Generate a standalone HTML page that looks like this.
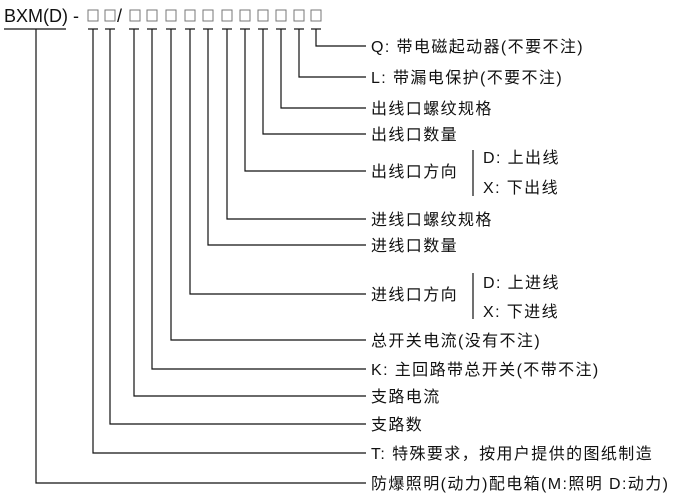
<!DOCTYPE html>
<html><head><meta charset="utf-8"><style>
html,body{margin:0;padding:0;background:#fff;}
svg{display:block}
text{font-family:"Liberation Sans","Noto Sans CJK SC",sans-serif;font-size:16px;fill:#111;letter-spacing:1.4px;}
text.t{font-size:18px;letter-spacing:0;}
</style></head><body>
<svg width="684" height="504" viewBox="0 0 684 504" xmlns="http://www.w3.org/2000/svg">
<g stroke="#111" stroke-width="1.2" fill="none">
<line x1="4" y1="29" x2="66" y2="29"/>
<g stroke="#777" stroke-width="1">
<rect x="88" y="10" width="10" height="11"/>
<rect x="105" y="10" width="10" height="11"/>
<rect x="130" y="10" width="10" height="11"/>
<rect x="147" y="10" width="10" height="11"/>
<rect x="166" y="10" width="10" height="11"/>
<rect x="185" y="10" width="10" height="11"/>
<rect x="203" y="10" width="10" height="11"/>
<rect x="222" y="10" width="10" height="11"/>
<rect x="240" y="10" width="10" height="11"/>
<rect x="258" y="10" width="10" height="11"/>
<rect x="276" y="10" width="10" height="11"/>
<rect x="294" y="10" width="10" height="11"/>
<rect x="311" y="10" width="10" height="11"/>
</g>
<line x1="88" y1="29" x2="98" y2="29"/><line x1="105" y1="29" x2="115" y2="29"/>
<line x1="129" y1="29" x2="139" y2="29"/><line x1="147" y1="29" x2="157" y2="29"/>
<line x1="166" y1="29" x2="176" y2="29"/><line x1="185" y1="29" x2="195" y2="29"/>
<line x1="203" y1="29" x2="213" y2="29"/><line x1="222" y1="29" x2="232" y2="29"/>
<line x1="240" y1="29" x2="250" y2="29"/><line x1="258" y1="29" x2="268" y2="29"/>
<line x1="276" y1="29" x2="286" y2="29"/><line x1="294" y1="29" x2="304" y2="29"/>
<line x1="311" y1="29" x2="321" y2="29"/>
<polyline points="316,29 316,46 366,46"/>
<polyline points="299,29 299,77 366,77"/>
<polyline points="281,29 281,108 366,108"/>
<polyline points="263,29 263,134 366,134"/>
<polyline points="245,29 245,171 366,171"/>
<polyline points="227,29 227,219 366,219"/>
<polyline points="208,29 208,245 366,245"/>
<polyline points="190,29 190,294 366,294"/>
<polyline points="171,29 171,340 366,340"/>
<polyline points="152,29 152,369 366,369"/>
<polyline points="134,29 134,396 366,396"/>
<polyline points="110,29 110,424 366,424"/>
<polyline points="93,29 93,453 366,453"/>
<polyline points="36,29 36,483 366,483"/>
<line x1="473" y1="150" x2="473" y2="196"/>
<line x1="473" y1="273" x2="473" y2="319"/>
</g>
<text class="t" x="4" y="22">BXM(D) -</text>
<text class="t" x="117" y="22">/</text>
<g>
<text x="371" y="52">Q: 带电磁起动器(不要不注)</text>
<text x="371" y="83">L: 带漏电保护(不要不注)</text>
<text x="371" y="114">出线口螺纹规格</text>
<text x="371" y="140">出线口数量</text>
<text x="371" y="177">出线口方向</text>
<text x="483" y="163">D: 上出线</text>
<text x="483" y="193">X: 下出线</text>
<text x="371" y="225">进线口螺纹规格</text>
<text x="371" y="251">进线口数量</text>
<text x="371" y="300">进线口方向</text>
<text x="483" y="288">D: 上进线</text>
<text x="483" y="317">X: 下进线</text>
<text x="371" y="346">总开关电流(没有不注)</text>
<text x="371" y="375">K: 主回路带总开关(不带不注)</text>
<text x="371" y="402">支路电流</text>
<text x="371" y="430">支路数</text>
<text x="371" y="459">T: 特殊要求，按用户提供的图纸制造</text>
<text x="371" y="489">防爆照明(动力)配电箱(M:照明 D:动力)</text>
</g>
</svg>
</body></html>
